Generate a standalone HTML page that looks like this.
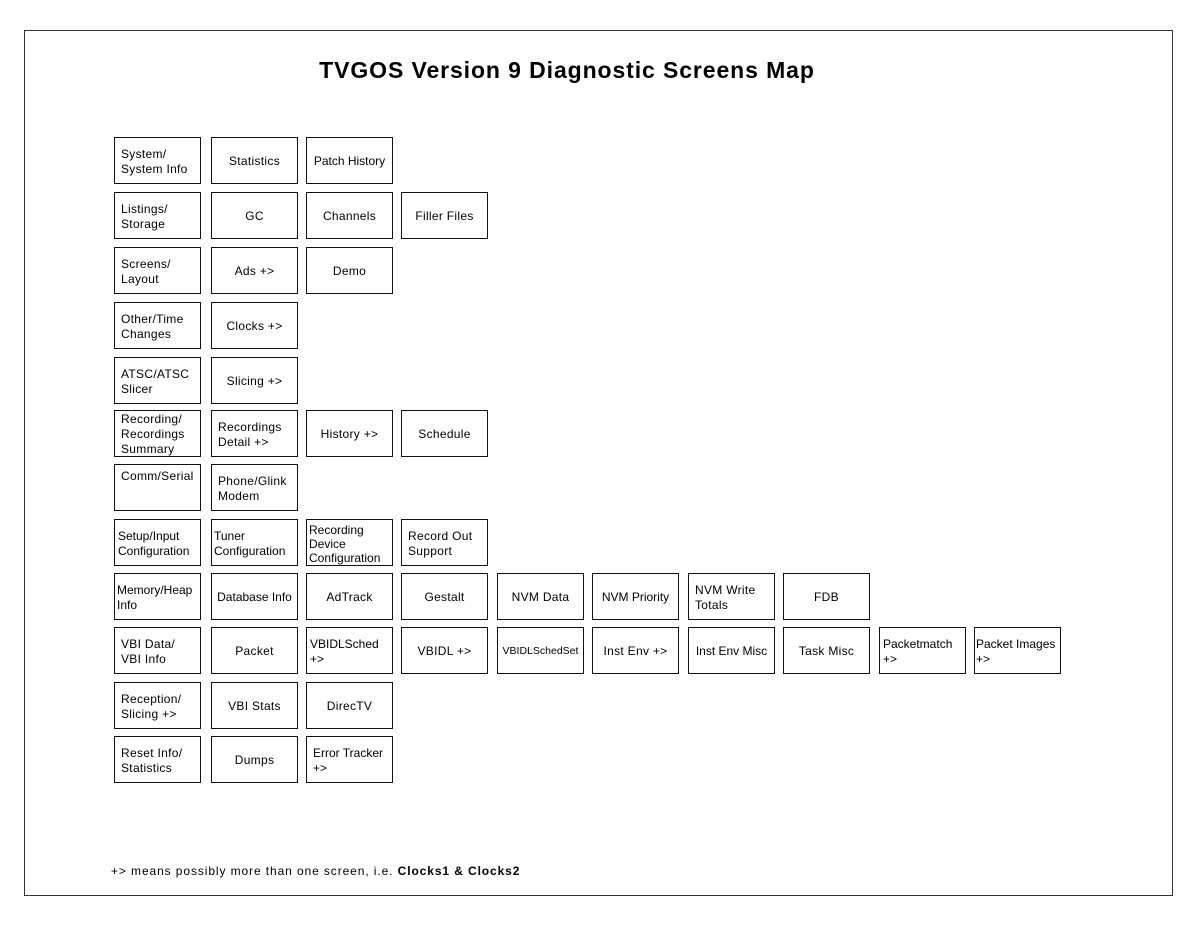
<!DOCTYPE html>
<html><head><meta charset="utf-8"><style>
body{margin:0;background:#fff;width:1200px;height:926px;position:relative;overflow:hidden;font-family:"Liberation Sans",sans-serif;color:#000}
.frame{position:absolute;left:24px;top:30px;width:1147px;height:864px;border:1.5px solid #333}
.t{position:absolute;left:0;width:1134px;top:57px;text-align:center;font-weight:bold;font-size:23px;letter-spacing:0.9px}
.b{position:absolute;width:85px;height:43px;padding-top:2px;border:1.5px solid #111;display:flex;align-items:center;justify-content:center;font-size:12px;letter-spacing:0.3px;line-height:15px;text-align:center;overflow:hidden;white-space:nowrap}
.l{justify-content:flex-start;text-align:left;padding-left:6px;width:79px}
.f{position:absolute;left:111px;top:864px;font-size:12px;letter-spacing:0.9px}
</style></head><body>
<div class="frame"></div>
<div class="t">TVGOS Version 9 Diagnostic Screens Map</div>

<div class="b l" style="left:114px;top:137px">System/<br>System Info</div>
<div class="b" style="left:211px;top:137px">Statistics</div>
<div class="b" style="left:306px;top:137px;letter-spacing:0">Patch History</div>

<div class="b l" style="left:114px;top:192px">Listings/<br>Storage</div>
<div class="b" style="left:211px;top:192px">GC</div>
<div class="b" style="left:306px;top:192px">Channels</div>
<div class="b" style="left:401px;top:192px">Filler Files</div>

<div class="b l" style="left:114px;top:247px">Screens/<br>Layout</div>
<div class="b" style="left:211px;top:247px">Ads +&gt;</div>
<div class="b" style="left:306px;top:247px">Demo</div>

<div class="b l" style="left:114px;top:302px">Other/Time<br>Changes</div>
<div class="b" style="left:211px;top:302px">Clocks +&gt;</div>

<div class="b l" style="left:114px;top:357px">ATSC/ATSC<br>Slicer</div>
<div class="b" style="left:211px;top:357px">Slicing +&gt;</div>

<div class="b l" style="left:114px;top:410px">Recording/<br>Recordings<br>Summary</div>
<div class="b l" style="left:211px;top:410px">Recordings<br>Detail +&gt;</div>
<div class="b" style="left:306px;top:410px">History +&gt;</div>
<div class="b" style="left:401px;top:410px">Schedule</div>

<div class="b l" style="left:114px;top:464px;align-items:flex-start;padding-top:4px;height:41px">Comm/Serial</div>
<div class="b l" style="left:211px;top:464px">Phone/Glink<br>Modem</div>

<div class="b l" style="left:114px;top:519px;padding-left:3px;width:82px;letter-spacing:0">Setup/Input<br>Configuration</div>
<div class="b l" style="left:211px;top:519px;padding-left:2px;width:83px;letter-spacing:0">Tuner<br>Configuration</div>
<div class="b l" style="left:306px;top:519px;padding-left:2px;width:83px;line-height:14px;letter-spacing:0">Recording<br>Device<br>Configuration</div>
<div class="b l" style="left:401px;top:519px">Record Out<br>Support</div>

<div class="b l" style="left:114px;top:573px;padding-left:2px;width:83px;letter-spacing:0">Memory/Heap<br>Info</div>
<div class="b" style="left:211px;top:573px;letter-spacing:0">Database Info</div>
<div class="b" style="left:306px;top:573px">AdTrack</div>
<div class="b" style="left:401px;top:573px">Gestalt</div>
<div class="b" style="left:497px;top:573px">NVM Data</div>
<div class="b" style="left:592px;top:573px;letter-spacing:0">NVM Priority</div>
<div class="b l" style="left:688px;top:573px">NVM Write<br>Totals</div>
<div class="b" style="left:783px;top:573px">FDB</div>

<div class="b l" style="left:114px;top:627px">VBI Data/<br>VBI Info</div>
<div class="b" style="left:211px;top:627px">Packet</div>
<div class="b l" style="left:306px;top:627px;padding-left:3px;width:82px;letter-spacing:0">VBIDLSched<br>+&gt;</div>
<div class="b" style="left:401px;top:627px">VBIDL +&gt;</div>
<div class="b" style="left:497px;top:627px;font-size:10.5px;letter-spacing:0">VBIDLSchedSet</div>
<div class="b" style="left:592px;top:627px">Inst Env +&gt;</div>
<div class="b" style="left:688px;top:627px;letter-spacing:0">Inst Env Misc</div>
<div class="b" style="left:783px;top:627px">Task Misc</div>
<div class="b l" style="left:879px;top:627px;padding-left:3px;width:82px;letter-spacing:0">Packetmatch<br>+&gt;</div>
<div class="b l" style="left:974px;top:627px;padding-left:1px;width:84px;letter-spacing:0">Packet Images<br>+&gt;</div>

<div class="b l" style="left:114px;top:682px">Reception/<br>Slicing +&gt;</div>
<div class="b" style="left:211px;top:682px">VBI Stats</div>
<div class="b" style="left:306px;top:682px">DirecTV</div>

<div class="b l" style="left:114px;top:736px">Reset Info/<br>Statistics</div>
<div class="b" style="left:211px;top:736px">Dumps</div>
<div class="b l" style="left:306px;top:736px;letter-spacing:0">Error Tracker<br>+&gt;</div>

<div class="f">+&gt; means possibly more than one screen, i.e. <b>Clocks1 &amp; Clocks2</b></div>
</body></html>
